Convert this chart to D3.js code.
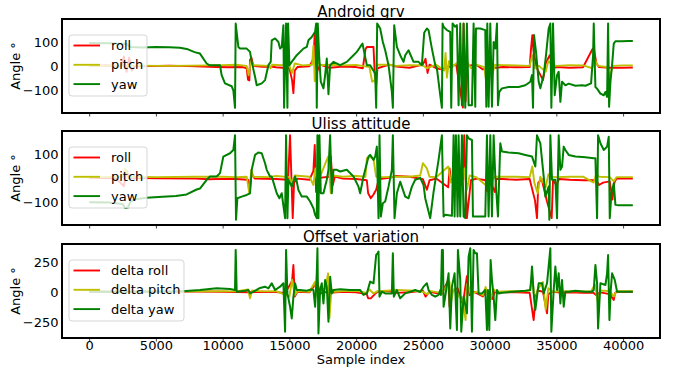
<!DOCTYPE html>
<html>
<head>
<meta charset="utf-8">
<script src="https://cdn.jsdelivr.net/npm/d3@7"></script>
<style>
  body { margin: 0; background: #fff; }
  svg { display: block; }
  text { font-family: "DejaVu Sans", sans-serif; fill: #000; }
</style>
</head>
<body>
<svg id="chart" width="685" height="371"></svg>
<script>
// ---- Data: [sample index, angle in degrees] ----
const grvRoll = [[0,0],[1200,2],[2400,0],[2600,40],[2800,-25],[3000,35],[3200,-20],[3400,0],[4500,-1],[6000,1],[8000,-2],[9500,-5],[10500,-6],[11500,-5],[11800,-10],[11900,-58],[12000,-62],[12050,25],[12150,35],[12300,0],[13000,-4],[13600,-3],[14000,-6],[14500,-8],[15000,-10],[15200,-60],[15300,-115],[15400,-20],[15600,-5],[16500,-2],[16800,30],[16900,135],[17000,-60],[17100,-20],[17300,5],[18000,-8],[19000,-3],[20000,-5],[20500,-10],[20700,70],[20800,80],[21300,80],[21400,-40],[21500,-82],[21600,-10],[22000,-3],[22500,5],[23000,-3],[24000,-8],[25000,5],[25200,30],[25350,-30],[25500,5],[26000,-10],[26400,-15],[27000,-3],[27500,5],[28000,-176],[28050,178],[28200,-150],[28300,0],[29000,5],[29500,-15],[30000,-5],[30500,-8],[31000,-5],[32000,-6],[33000,-5],[33100,70],[33200,130],[33300,60],[33500,-5],[34000,-60],[34200,10],[34500,45],[34800,-10],[35000,-5],[36000,-8],[37000,-6],[37700,70],[37800,75],[38000,10],[38200,-5],[39000,-8],[40000,-8],[40730,-7]];

const grvPitch = [[0,0],[3000,1],[6000,0],[9000,2],[10000,3],[11000,5],[11800,0],[11950,-40],[12100,20],[12300,3],[13500,0],[13600,-10],[13700,5],[14500,3],[15000,0],[15200,-30],[15400,10],[16000,2],[16700,5],[16800,85],[16900,-65],[17100,20],[17300,3],[18000,5],[19000,2],[20000,4],[21000,-5],[21200,-67],[21400,-60],[21600,5],[22500,5],[23000,0],[24000,3],[25000,2],[25300,-10],[26000,5],[26600,-20],[26700,55],[26800,-50],[26950,20],[27200,-5],[27600,15],[28000,-40],[28300,20],[28600,-10],[29000,5],[29600,-5],[29700,-50],[29850,10],[30200,-35],[30400,5],[31000,3],[32000,2],[33000,0],[33200,45],[33400,-10],[33700,0],[34200,-25],[34400,20],[34700,5],[35000,0],[36000,3],[37000,2],[37700,-10],[37900,25],[38100,0],[38800,-5],[39000,-50],[39200,0],[40000,2],[40730,2]];

const grvYaw = [[0,97],[1500,96],[2800,92],[3100,80],[4000,78],[5000,80],[6000,79],[6800,77],[7400,70],[7900,58],[8300,52],[8800,10],[9000,3],[9800,3],[9925,-39],[10175,-74],[10675,-86],[10800,-103],[10927,-177],[10977,179],[11177,80],[11302,73],[11802,73],[12052,59],[12177,17],[12427,-46],[12552,-82],[12927,-74],[13177,-60],[13427,3],[13602,17],[13677,108],[13927,116],[14177,101],[14302,73],[14427,80],[14552,172],[14602,-177],[14752,179],[14852,-177],[14902,179],[15002,3],[15177,17],[15552,45],[16052,73],[16302,80],[16427,108],[16677,122],[16927,144],[17002,179],[17052,-177],[17127,179],[17227,45],[17352,-67],[17552,-95],[17677,-39],[17802,31],[17927,-120],[18052,3],[18302,17],[18802,3],[19302,17],[19802,45],[20052,59],[20302,80],[20477,94],[20602,59],[20802,3],[21052,3],[21427,-32],[21502,-177],[21577,179],[21802,158],[22002,101],[22177,66],[22427,3],[22677,-110],[22752,-177],[22852,172],[23052,80],[23302,45],[23552,17],[23677,45],[23927,66],[24302,17],[24677,17],[24927,3],[25100,140],[25300,158],[25426,151],[25676,73],[25926,3],[26051,-11],[26301,-124],[26426,-177],[26476,179],[26551,165],[26801,151],[27051,144],[27126,-177],[27226,179],[27426,165],[27551,172],[27676,-166],[27801,179],[27926,-166],[28051,179],[28176,-177],[28301,179],[28426,-166],[28676,-166],[28801,179],[28926,-173],[28976,158],[29301,158],[29676,151],[29751,-173],[29826,179],[29926,-173],[30051,179],[30176,-173],[30301,101],[30426,73],[30551,179],[30626,-166],[30726,-110],[30926,-95],[31426,-89],[32176,-89],[32676,-82],[33051,-67],[33176,-39],[33251,-177],[33326,130],[33476,59],[33676,-67],[33801,-95],[34051,-39],[34226,45],[34426,158],[34551,179],[34626,-177],[34751,179],[34876,-124],[35051,-39],[35176,-25],[35301,-152],[35426,-67],[35676,-82],[35926,-75],[36426,-84],[36926,-82],[37176,-84],[37601,-74],[37751,45],[37801,179],[37926,-89],[38051,-96],[38301,-117],[38551,-124],[38676,-110],[38801,-131],[38876,179],[38951,-173],[39051,-68],[39176,3],[39301,94],[39426,104],[39926,104],[40426,105],[40730,105]];

const ulissRoll = [[0,0],[2000,-2],[2600,-35],[2800,30],[3000,0],[5000,-2],[8000,-3],[9000,-6],[10000,-4],[11000,-5],[11900,-8],[12050,-40],[12150,20],[12400,-3],[14000,-5],[14900,-8],[15050,180],[15250,-170],[15350,-20],[15600,-3],[16500,-8],[16800,30],[16900,139],[17000,-60],[17200,0],[18000,5],[18100,90],[18250,-30],[18400,5],[19000,-3],[20000,-5],[20800,-10],[20900,-65],[21100,-86],[21300,-70],[21500,-50],[21700,-5],[22500,0],[23000,8],[24000,5],[25000,-5],[25300,-50],[25500,-10],[26000,-3],[26900,-40],[27000,40],[27100,-10],[28000,-5],[28100,180],[28300,-170],[28600,-10],[29000,-3],[29700,-10],[29800,-56],[29950,-5],[30400,-60],[30500,-5],[31000,-5],[32000,-8],[33000,-5],[33400,-95],[33550,-170],[33650,-20],[33900,-5],[34300,-100],[34650,-170],[34750,-10],[35000,-30],[35200,-5],[36000,-8],[37000,-10],[38000,-10],[38200,-30],[38500,-20],[39000,-15],[39200,-92],[39350,-20],[39500,-3],[40730,-3]];

const ulissPitch = [[0,2],[2500,5],[2700,40],[2900,5],[5000,3],[8000,5],[10000,5],[11000,3],[11800,5],[12000,-65],[12150,34],[12300,5],[13500,3],[14000,8],[15000,3],[15200,-20],[15400,10],[16500,5],[16800,-30],[16950,40],[17100,-20],[17300,5],[17900,90],[18100,-65],[18250,10],[19000,5],[20000,8],[20700,5],[20800,83],[21100,88],[21300,80],[21500,5],[22000,3],[23000,5],[24000,5],[24800,10],[25000,62],[25300,40],[25500,5],[26000,3],[26900,48],[27100,-20],[27500,5],[27900,-30],[28100,40],[28300,-50],[28500,10],[29000,3],[29700,-30],[29900,40],[30100,-10],[30400,5],[31000,5],[32000,5],[33000,3],[33200,48],[33350,-20],[33600,-65],[33800,5],[34200,-40],[34400,15],[34600,5],[35000,3],[36000,5],[37000,5],[37800,-20],[38000,20],[38200,5],[39000,3],[39300,-15],[39500,3],[40730,3]];

const ulissYaw = [[0,-103],[1500,-104],[2500,-110],[2700,-127],[2900,-125],[3100,-100],[3500,-90],[4300,-84],[5500,-80],[6500,-77],[7300,-70],[8050,-49],[8302,-45],[8802,-8],[9052,6],[9552,6],[9802,20],[10052,90],[10552,104],[10802,118],[10927,180],[11002,-177],[11102,-86],[11427,-79],[11802,-72],[12052,-65],[12177,34],[12427,97],[12677,107],[12927,104],[13177,62],[13302,34],[13552,6],[13677,6],[14052,-65],[14252,-86],[14427,-65],[14677,-170],[14752,180],[14852,-170],[14927,-8],[15177,-37],[15427,6],[15552,-15],[15677,-51],[15927,-79],[16302,-79],[16552,-100],[16802,-128],[16927,-156],[17052,-170],[17102,180],[17177,-170],[17252,180],[17352,-65],[17552,-65],[17802,-8],[17927,34],[18052,180],[18177,-65],[18302,34],[18552,34],[18802,27],[19302,34],[19802,6],[20177,-37],[20302,-65],[20552,6],[20802,62],[20927,90],[21052,97],[21302,76],[21427,90],[21552,132],[21677,-170],[21752,180],[21852,-163],[22002,-107],[22177,-100],[22427,-37],[22677,34],[22752,180],[22877,-170],[23052,-65],[23302,-16],[23427,-37],[23677,-79],[23927,-86],[24177,-37],[24427,-8],[24802,0],[25050,-30],[25176,-86],[25551,-170],[25800,-60],[26176,76],[26426,180],[26551,-163],[26676,-156],[27176,-160],[27301,180],[27376,-163],[27476,180],[27601,-163],[27676,180],[27801,-163],[27926,180],[28051,-163],[28176,-170],[28301,180],[28426,167],[28676,160],[28751,-163],[28926,-163],[29176,-163],[29676,-163],[29801,180],[29926,-163],[30051,180],[30176,-163],[30301,180],[30426,6],[30626,-163],[30801,146],[30926,111],[31426,107],[32176,104],[32676,97],[33176,90],[33426,48],[33551,180],[33801,146],[34051,6],[34176,-79],[34426,-37],[34476,-177],[34551,180],[34676,-8],[34926,-8],[35051,-170],[35176,180],[35301,34],[35426,48],[35551,132],[35676,118],[35926,97],[36426,90],[37176,87],[37801,83],[37926,83],[38051,-170],[38126,180],[38301,146],[38551,118],[38801,132],[38926,174],[39001,-170],[39126,-65],[39301,-23],[39426,-114],[39676,-116],[40176,-116],[40730,-116]];

const deltaRoll = [[0,0],[5000,0],[8000,2],[10000,0],[11000,-3],[12000,-5],[13000,0],[14000,-3],[14600,-10],[14900,30],[15200,90],[15300,222],[15400,-40],[15600,0],[16500,-5],[16900,55],[17100,80],[17300,-20],[17500,0],[18000,-10],[19000,0],[20000,-5],[20800,-20],[20900,-55],[21100,-55],[21400,-20],[21600,0],[22500,5],[23000,-10],[24000,-5],[25000,10],[25200,-40],[25500,0],[26400,-20],[26900,98],[27000,-125],[27150,0],[27600,30],[28000,-100],[28300,130],[28500,-30],[28800,0],[29500,-40],[29800,10],[30200,-60],[30400,0],[31000,-5],[32000,-5],[33000,-10],[33300,-236],[33450,-40],[33600,10],[34000,0],[34300,-180],[34400,-20],[34700,0],[35500,-10],[36000,-5],[37000,-8],[37800,-10],[38000,-30],[38300,-5],[39000,-20],[39300,-69],[39400,-10],[39600,0],[40730,0]];

const deltaPitch = [[0,2],[5000,1],[8000,3],[10000,5],[11000,3],[11900,20],[12050,-55],[12200,10],[13000,3],[14000,5],[15000,-40],[15200,100],[15400,-30],[15600,5],[16500,0],[16900,80],[17100,-40],[17300,5],[17700,30],[17900,153],[18000,-220],[18150,20],[18400,0],[19000,5],[20000,8],[20800,-10],[21000,20],[21300,-15],[21600,5],[22500,10],[23000,15],[24000,10],[25000,0],[25300,-20],[25600,5],[26400,-10],[27000,80],[27100,-90],[27300,20],[28000,-80],[28200,-236],[28300,60],[28600,-20],[29000,0],[29500,-30],[29700,40],[30000,-80],[30300,20],[30500,0],[31500,5],[32500,3],[33000,10],[33200,125],[33400,-125],[33600,20],[34000,80],[34200,-150],[34400,30],[34700,0],[35500,5],[36500,3],[37600,5],[37900,60],[38100,-80],[38300,10],[39000,5],[39300,-40],[39500,5],[40730,5]];

const deltaYaw = [[0,0],[3000,0],[6000,2],[7000,3],[8302,14],[9552,28],[10552,22],[10927,14],[10977,348],[11052,0],[11552,5],[11927,14],[12052,-14],[12302,0],[12802,31],[13177,42],[13427,28],[13677,70],[13927,14],[14302,42],[14552,70],[14677,-333],[14752,348],[14852,-14],[15052,-125],[15177,-222],[15302,-41],[15427,70],[15552,14],[15802,14],[16302,9],[16677,20],[16802,14],[16927,-125],[17052,153],[17102,361],[17177,-347],[17302,14],[17427,70],[17552,-97],[17677,98],[17802,42],[17927,-250],[18052,125],[18177,-14],[18302,14],[18802,20],[19552,14],[20302,14],[20552,-27],[20802,-14],[21052,84],[21302,70],[21502,306],[21602,320],[21677,334],[21752,-41],[21927,0],[22177,-14],[22677,-14],[22752,320],[22827,-41],[23052,14],[23302,-55],[23677,-14],[24052,0],[24427,14],[24802,-2],[25052,42],[25300,70],[25426,14],[25676,-27],[25926,-41],[26176,-27],[26301,14],[26351,-27],[26426,348],[26501,348],[26551,-125],[26676,-41],[26926,153],[27051,-305],[27176,42],[27376,153],[27551,-319],[27626,348],[27801,98],[27876,-333],[28051,-41],[28301,-180],[28426,292],[28551,362],[28676,-333],[28801,348],[28926,320],[29051,320],[29176,-14],[29426,-14],[29676,14],[29801,-319],[29876,14],[29976,-319],[30076,264],[30176,98],[30301,-41],[30426,-236],[30551,14],[30676,-14],[30926,-8],[31676,0],[32676,9],[33051,14],[33126,125],[33176,209],[33301,-14],[33426,-152],[33676,70],[33926,70],[34051,-14],[34301,70],[34551,362],[34626,-333],[34801,14],[34926,209],[35051,14],[35176,153],[35301,-97],[35426,98],[35551,-125],[35676,0],[35926,0],[36426,9],[37176,0],[37676,0],[37801,14],[37926,223],[38051,70],[38126,-305],[38301,70],[38676,56],[38801,153],[38876,306],[38976,-236],[39076,14],[39176,153],[39376,98],[39551,0],[40176,0],[40730,0]];

const xTicks = [0, 5000, 10000, 15000, 20000, 25000, 30000, 35000, 40000];
const angleTicks = [-100, 0, 100];
const offsetTicks = [-250, 0, 250];
const colors = { roll: "#ff0000", pitch: "#bfbf00", yaw: "#008000" };

const panels = [
  { title: "Android grv", top: 19, bottom: 113, domain: [-199, 198], ticks: angleTicks,
    series: [["roll", grvRoll], ["pitch", grvPitch], ["yaw", grvYaw]],
    labels: ["roll", "pitch", "yaw"], legendW: 78 },
  { title: "Uliss attitude", top: 131, bottom: 225, domain: [-199, 198], ticks: angleTicks,
    series: [["roll", ulissRoll], ["pitch", ulissPitch], ["yaw", ulissYaw]],
    labels: ["roll", "pitch", "yaw"], legendW: 78 },
  { title: "Offset variation", top: 244, bottom: 338, domain: [-385, 397], ticks: offsetTicks,
    series: [["roll", deltaRoll], ["pitch", deltaPitch], ["yaw", deltaYaw]],
    labels: ["delta roll", "delta pitch", "delta yaw"], legendW: 115 }
];

const left = 62, right = 660;
const svg = d3.select("#chart");
const x = d3.scaleLinear().domain([-2035, 42765]).range([left, right]);
const fmt = d3.format("d");
const minus = v => fmt(v).replace("-", "\u2212");

panels.forEach((p, i) => {
  const y = d3.scaleLinear().domain(p.domain).range([p.bottom, p.top]);
  const g = svg.append("g");

  const clipId = "clip" + i;
  svg.append("clipPath").attr("id", clipId)
    .append("rect").attr("x", left).attr("y", p.top)
    .attr("width", right - left).attr("height", p.bottom - p.top);

  const line = d3.line().x(d => x(d[0])).y(d => y(d[1]));
  const plot = g.append("g").attr("clip-path", `url(#${clipId})`);
  p.series.forEach(([key, data]) => {
    plot.append("path").datum(data)
      .attr("d", line)
      .attr("fill", "none")
      .attr("stroke", colors[key])
      .attr("stroke-width", key === "yaw" ? 2 : 1.9)
      .attr("stroke-linejoin", "round");
  });

  // x tick marks under each panel; labels on the bottom panel only
  const xAxis = d3.axisBottom(x).tickValues(xTicks).tickSize(3.5).tickFormat(i === 2 ? fmt : "");
  const xa = g.append("g").attr("transform", `translate(0,${p.bottom})`).call(xAxis);
  xa.select(".domain").remove();
  xa.selectAll("line").attr("stroke", "#444");
  xa.selectAll("text").attr("font-size", 13).attr("font-family", "DejaVu Sans")
    .attr("y", 0).attr("dy", 0)
    .attr("transform", "translate(0,11.5)");

  // y axis labels
  const yAxis = d3.axisLeft(y).tickValues(p.ticks).tickSize(0).tickPadding(3.5).tickFormat(minus);
  const ya = g.append("g").attr("transform", `translate(${left},0)`).call(yAxis);
  ya.select(".domain").remove();
  ya.selectAll("text").attr("font-size", 13).attr("font-family", "DejaVu Sans").attr("dy", "0.35em");

  // frame
  g.append("rect").attr("x", left).attr("y", p.top)
    .attr("width", right - left).attr("height", p.bottom - p.top)
    .attr("fill", "none").attr("stroke", "#000").attr("stroke-width", 2);

  // title
  g.append("text").attr("x", (left + right) / 2).attr("y", p.top - 2.5)
    .attr("text-anchor", "middle").attr("font-size", 15).text(p.title);

  // y label
  g.append("text")
    .attr("transform", `translate(20,${(p.top + p.bottom) / 2}) rotate(-90)`)
    .attr("text-anchor", "middle").attr("font-size", 13).text("Angle \u00b0");

  // legend
  const lg = g.append("g").attr("transform", `translate(69,${p.top + 16})`);
  lg.append("rect").attr("width", p.legendW).attr("height", 61).attr("rx", 3)
    .attr("fill", "#fff").attr("fill-opacity", 0.8)
    .attr("stroke", "#ccc").attr("stroke-opacity", 0.8);
  p.series.forEach(([key], j) => {
    const yy = 10.5 + j * 19.3;
    lg.append("line").attr("x1", 4.5).attr("x2", 31).attr("y1", yy).attr("y2", yy)
      .attr("stroke", colors[key]).attr("stroke-width", 1.9);
    lg.append("text").attr("x", 42).attr("y", yy).attr("dy", "0.35em")
      .attr("font-size", 13).text(p.labels[j]);
  });
});

// x axis label
svg.append("text").attr("x", (left + right) / 2).attr("y", 363.5)
  .attr("text-anchor", "middle").attr("font-size", 13).text("Sample index");
</script>
</body>
</html>
